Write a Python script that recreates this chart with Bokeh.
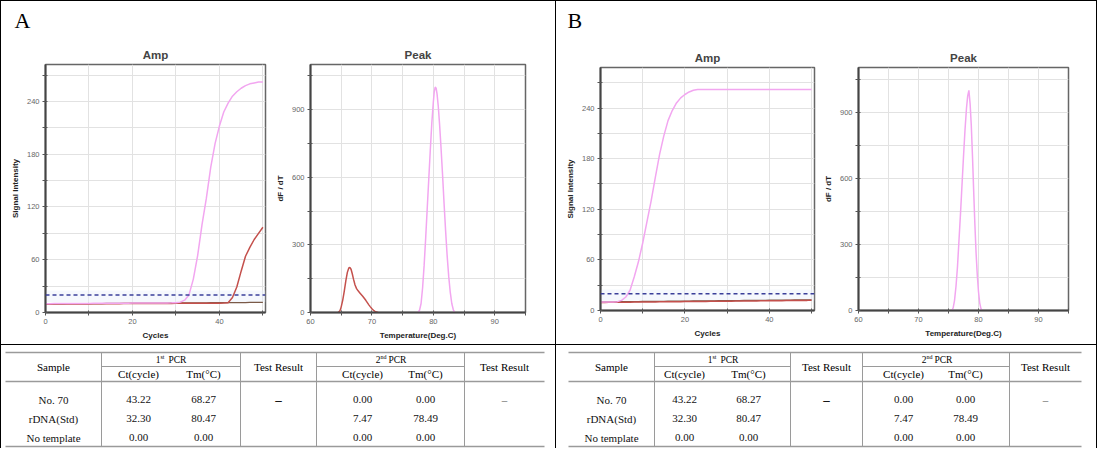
from bokeh.plotting import figure
from bokeh.layouts import row, column
from bokeh.models import Div, FixedTicker, Range1d, Span, BoxAnnotation
from bokeh.core.properties import value
from bokeh.embed import file_html
from bokeh.resources import INLINE

# ---------------- data ----------------
cycles = list(range(51))

ampA_rdna = [10.0, 10.0, 10.1, 10.1, 10.1, 10.2, 10.2, 10.2, 10.3, 10.3,
             10.3, 10.4, 10.4, 10.4, 10.5, 10.5, 10.5, 10.6, 10.6, 10.6,
             10.7, 10.7, 10.7, 10.8, 10.8, 10.8, 10.9, 10.9, 10.9, 11.0,
             11.2, 11.8, 14.0, 20.0, 38.0, 65.0, 100.0, 130.0, 165.0, 192.0,
             212.0, 228.0, 238.0, 246.0, 251.0, 255.0, 258.0, 260.0, 261.0, 262.0,
             262.0]
ampA_no70 = [9.5, 9.5, 9.6, 9.6, 9.6, 9.7, 9.7, 9.7, 9.8, 9.8,
             9.8, 9.9, 9.9, 9.9, 10.0, 10.0, 10.0, 10.0, 10.1, 10.1,
             10.1, 10.1, 10.2, 10.2, 10.2, 10.2, 10.3, 10.3, 10.3, 10.3,
             10.4, 10.4, 10.4, 10.4, 10.5, 10.5, 10.5, 10.5, 10.6, 10.6,
             10.6, 10.8, 11.2, 17.0, 29.0, 47.0, 64.0, 74.0, 83.0, 90.0,
             97.0]
ampA_ntc = [9.8, 9.8, 9.9, 9.9, 9.9, 10.0, 10.0, 10.0, 10.1, 10.1,
            10.1, 10.2, 10.2, 10.2, 10.3, 10.3, 10.3, 10.4, 10.4, 10.4,
            10.5, 10.5, 10.5, 10.6, 10.6, 10.6, 10.7, 10.7, 10.7, 10.8,
            10.8, 10.8, 10.9, 10.9, 10.9, 11.0, 11.0, 11.0, 11.1, 11.1,
            11.1, 11.2, 11.2, 11.2, 11.3, 11.3, 11.3, 11.4, 11.4, 11.4,
            11.5]

ampB_rdna = [10.0, 10.0, 10.1, 10.2, 10.5, 12.0, 16.0, 24.0, 40.0, 58.0,
             80.0, 105.0, 130.0, 158.0, 185.0, 207.0, 225.0, 237.0, 246.0, 252.0,
             256.0, 259.0, 261.0, 262.0, 262.0, 262.0, 262.0, 262.0, 262.0, 262.0,
             262.0, 262.0, 262.0, 262.0, 262.0, 262.0, 262.0, 262.0, 262.0, 262.0,
             262.0, 262.0, 262.0, 262.0, 262.0, 262.0, 262.0, 262.0, 262.0, 262.0,
             262.0]
ampB_no70 = [9.6, 9.6, 9.7, 9.7, 9.8, 9.8, 9.9, 9.9, 10.0, 10.0,
             10.1, 10.1, 10.2, 10.2, 10.3, 10.3, 10.4, 10.4, 10.5, 10.5,
             10.6, 10.6, 10.7, 10.7, 10.8, 10.8, 10.9, 10.9, 11.0, 11.0,
             11.1, 11.1, 11.2, 11.2, 11.3, 11.3, 11.4, 11.4, 11.5, 11.5,
             11.6, 11.6, 11.7, 11.7, 11.8, 11.8, 11.9, 11.9, 12.0, 12.0,
             12.1]
ampB_ntc = [10.2, 10.2, 10.3, 10.3, 10.4, 10.4, 10.5, 10.5, 10.6, 10.6,
            10.7, 10.7, 10.8, 10.8, 10.9, 10.9, 11.0, 11.0, 11.1, 11.1,
            11.2, 11.2, 11.3, 11.3, 11.4, 11.4, 11.5, 11.5, 11.6, 11.6,
            11.7, 11.7, 11.8, 11.8, 11.9, 11.9, 12.0, 12.0, 12.1, 12.1,
            12.2, 12.2, 12.3, 12.3, 12.4, 12.4, 12.5, 12.5, 12.6, 12.6,
            12.7]

threshold_A = 20.0
threshold_B = 20.0

peakA_rdna_temp = [77.5, 77.75, 78.0, 78.25, 78.5, 78.75, 79.0, 79.25, 79.5, 79.75,
                   80.0, 80.15, 80.3, 80.45, 80.6, 80.8, 81.0, 81.25, 81.5, 81.75,
                   82.0, 82.25, 82.5, 82.75, 83.0, 83.25, 83.5]
peakA_rdna = [0, 10, 40, 110, 210, 330, 460, 590, 720, 840,
              935, 980, 1000, 995, 970, 915, 840, 730, 610, 480,
              360, 250, 160, 90, 40, 12, 0]
peakA_no70_temp = [64.5, 64.8, 65.0, 65.25, 65.5, 65.75, 66.0, 66.25, 66.4, 66.6,
                   66.8, 67.0, 67.25, 67.5, 67.75, 68.0, 68.25, 68.5, 68.75, 69.0,
                   69.25, 69.5, 69.75, 70.0, 70.25, 70.5, 70.75, 71.0]
peakA_no70 = [0, 8, 25, 55, 95, 140, 178, 198, 200, 192,
              172, 148, 122, 106, 96, 88, 80, 72, 63, 54,
              44, 34, 25, 17, 10, 5, 2, 0]
peakB_rdna_temp = [75.6, 75.8, 76.0, 76.25, 76.5, 76.75, 77.0, 77.25, 77.5, 77.75,
                   78.0, 78.2, 78.4, 78.6, 78.8, 79.0, 79.2, 79.4, 79.6, 79.8,
                   80.0, 80.2, 80.4, 80.6]
peakB_rdna = [0, 15, 45, 110, 200, 320, 440, 570, 700, 820,
              920, 975, 1000, 940, 840, 700, 540, 390, 260, 160,
              85, 35, 10, 0]

samples = ["No. 70", "rDNA(Std)", "No template"]
ct_1st = ["43.22", "32.30", "0.00"]
tm_1st = ["68.27", "80.47", "0.00"]
result_1st = ["\u2013", "", ""]
ct_2nd = ["0.00", "7.47", "0.00"]
tm_2nd = ["0.00", "78.49", "0.00"]
result_2nd = ["\u2013", "", ""]

PINK = "#f2a6f0"
RED = "#c4504c"
DARK = "#7a5a48"
SANS = "Liberation Sans"
SERIF = "Liberation Serif"


def vline(h):
    return Div(width=1, height=h, margin=0, styles={"background-color": "black"})


def hline(w):
    return Div(width=w, height=1, margin=0, styles={"background-color": "black"})


def style_chart(p, xlabel, ylabel, xticks, xlabels, yticks, ylabels):
    p.title.text_font = SANS
    p.title.text_font_size = "11.5px"
    p.title.text_font_style = "bold"
    p.title.align = "center"
    p.title.standoff = 7
    p.xaxis.ticker = FixedTicker(ticks=xticks)
    p.yaxis.ticker = FixedTicker(ticks=yticks)
    p.xaxis.major_label_overrides = {t: (str(t) if t in xlabels else "") for t in xticks}
    p.yaxis.major_label_overrides = {t: (str(t) if t in ylabels else "") for t in yticks}
    p.xaxis.axis_label = xlabel
    p.yaxis.axis_label = ylabel
    for ax in (p.xaxis[0], p.yaxis[0]):
        ax.axis_label_text_font = SANS
        ax.axis_label_text_font_size = "8px"
        ax.axis_label_text_font_style = "bold"
        ax.axis_label_text_color = "#222222"
        ax.axis_label_standoff = 4
        ax.major_label_text_font = SANS
        ax.major_label_text_font_size = "7.5px"
        ax.major_label_text_color = "#666666"
        ax.major_label_standoff = 3
        ax.axis_line_color = "#444444"
        ax.axis_line_width = 2
        ax.major_tick_line_color = "#555555"
        ax.major_tick_in = 2
        ax.major_tick_out = 3
        ax.minor_tick_line_color = None
    p.grid.grid_line_color = "#e2e2e2"
    p.outline_line_color = "#666666"
    p.outline_line_width = 1.5
    p.background_fill_color = "white"


def amp_chart(width, height, mb, rdna, no70, ntc, thr, xmax, ymax):
    p = figure(width=width, height=height, title="Amp",
               x_range=Range1d(0, xmax), y_range=Range1d(0, ymax),
               toolbar_location=None, output_backend="svg",
               min_border_left=mb[0], min_border_right=mb[1],
               min_border_top=mb[2], min_border_bottom=mb[3])
    style_chart(p, "Cycles", "Signal Intensity",
                [0, 10, 20, 30, 40, 50], [0, 20, 40],
                [0, 30, 60, 90, 120, 150, 180, 210, 240, 270], [0, 60, 120, 180, 240])
    p.add_layout(BoxAnnotation(bottom=thr - 8, top=thr + 5, fill_color="#e9f0fb",
                               fill_alpha=0.45, line_color=None, level="underlay"))
    p.line(cycles, ntc, line_color=DARK, line_width=1.3)
    p.line(cycles, no70, line_color=RED, line_width=1.5)
    p.line(cycles, rdna, line_color=PINK, line_width=1.5)
    p.add_layout(Span(location=thr, dimension="width", line_color="#3a3f9a",
                      line_width=1.5, line_dash="4 3"))
    return p


def peak_chart(width, height, mb, series, xmax, ymax):
    p = figure(width=width, height=height, title="Peak",
               x_range=Range1d(60, xmax), y_range=Range1d(0, ymax),
               toolbar_location=None, output_backend="svg",
               min_border_left=mb[0], min_border_right=mb[1],
               min_border_top=mb[2], min_border_bottom=mb[3])
    style_chart(p, "Temperature(Deg.C)", "dF / dT",
                [60, 65, 70, 75, 80, 85, 90, 95], [60, 70, 80, 90],
                [0, 150, 300, 450, 600, 750, 900, 1050], [0, 300, 600, 900])
    for xs, ys, col in series:
        p.line(xs, ys, line_color=col, line_width=1.5)
    return p


def header(width, height, letter, x, y):
    p = figure(width=width, height=height, x_range=Range1d(0, width),
               y_range=Range1d(height, 0), toolbar_location=None,
               output_backend="svg", min_border=0)
    p.axis.visible = False
    p.grid.visible = False
    p.outline_line_color = None
    p.text(x=[x], y=[y], text=[letter], text_font=value(SERIF),
           text_font_size="22px", text_baseline="middle", text_align="left",
           text_color="black")
    return p


def table(width, height, lay):
    p = figure(width=width, height=height, x_range=Range1d(0, width),
               y_range=Range1d(height, 0), toolbar_location=None,
               output_backend="svg", min_border=0)
    p.axis.visible = False
    p.grid.visible = False
    p.outline_line_color = None
    L, R = lay["left"], lay["right"]
    ytop, ymid, yhead, ybot = lay["ys"]
    # rules
    p.segment(x0=[L, L, L], y0=[ytop, yhead, ybot], x1=[R, R, R], y1=[ytop, yhead, ybot],
              line_color="#9a9a9a", line_width=1.6)
    p.segment(x0=[lay["sep"][0], lay["sep"][2]], y0=[ymid, ymid],
              x1=[lay["sep"][1], lay["sep"][3]], y1=[ymid, ymid],
              line_color="#9a9a9a", line_width=1)
    p.segment(x0=lay["sep"], y0=[ytop] * 4, x1=lay["sep"], y1=[ybot] * 4,
              line_color="#9a9a9a", line_width=1)
    tf = value(SERIF)
    fs = "11px"
    c = lay["centers"]
    hy = (ytop + yhead) / 2
    sy = (ymid + yhead) / 2
    py = (ytop + ymid) / 2
    p.text(x=[c[0], c[3], c[6]], y=[hy] * 3, text=["Sample", "Test Result", "Test Result"],
           text_font=tf, text_font_size=fs, text_align="center", text_baseline="middle")
    p.text(x=[c[1], c[2], c[4], c[5]], y=[sy] * 4,
           text=["Ct(cycle)", "Tm(\u00b0C)", "Ct(cycle)", "Tm(\u00b0C)"],
           text_font=tf, text_font_size=fs, text_align="center", text_baseline="middle")
    pc = lay["pcr"]
    p.text(x=[pc[0] - 10, pc[1] - 10], y=[py, py], text=["1", "2"], text_font=tf,
           text_font_size="9.5px", text_align="right", text_baseline="middle")
    p.text(x=[pc[0] - 10, pc[1] - 10], y=[py - 2.5, py - 2.5], text=["st", "nd"], text_font=tf,
           text_font_size="6px", text_align="left", text_baseline="middle")
    p.text(x=[pc[0] - 2, pc[1] - 2], y=[py, py], text=["PCR", "PCR"], text_font=tf,
           text_font_size="9.5px", text_align="left", text_baseline="middle")
    rows = lay["rows"]
    cols = [samples, ct_1st, tm_1st, result_1st, ct_2nd, tm_2nd, result_2nd]
    for ci, col in enumerate(cols):
        if ci in (3, 6):
            continue
        p.text(x=[c[ci]] * 3, y=rows, text=col, text_font=tf, text_font_size=fs,
               text_align="center", text_baseline="middle", text_color="#111111")
    p.text(x=[c[3]], y=[rows[0]], text=[result_1st[0]], text_font=tf, text_font_size="13px",
           text_font_style="bold", text_align="center", text_baseline="middle")
    p.text(x=[c[6]], y=[rows[0]], text=[result_2nd[0]], text_font=tf, text_font_size="11px",
           text_align="center", text_baseline="middle", text_color="#555555")
    return p


# ---------------- panels ----------------
TOP_H = 307
HEAD_H = 36

ampA = amp_chart(271, TOP_H, (44, 7, 27, 32), ampA_rdna, ampA_no70, ampA_ntc, threshold_A, 50.6, 282)
peakA = peak_chart(283, TOP_H, (33, 30, 27, 32),
                   [(peakA_no70_temp, peakA_no70, RED), (peakA_rdna_temp, peakA_rdna, PINK)], 95, 1100)
ampB = amp_chart(264, TOP_H, (44, 6, 30, 34), ampB_rdna, ampB_no70, ampB_ntc, threshold_B, 50.7, 288)
peakB = peak_chart(276, TOP_H, (32, 28, 29, 34),
                   [(peakB_rdna_temp, peakB_rdna, PINK)], 95, 1104)

headA = header(554, HEAD_H, "A", 13, 19)
headB = header(540, HEAD_H, "B", 11, 19)

TAB_H = 103
layA = dict(left=4, right=543, ys=(7, 21, 36, 101),
            sep=[100, 239, 315, 463],
            centers=[52, 137, 202, 277, 361, 424, 503],
            pcr=[169, 389], rows=[54, 73, 92])
layB = dict(left=12, right=525, ys=(7, 21, 36, 101),
            sep=[98, 234, 306, 453],
            centers=[55, 128, 192, 270, 347, 409, 489],
            pcr=[166, 380], rows=[54, 73, 92])
tabA = table(554, TAB_H, layA)
tabB = table(540, TAB_H, layB)

top_h = HEAD_H + TOP_H
page = column(
    hline(1097),
    row(vline(top_h), column(headA, row(ampA, peakA)), vline(top_h),
        column(headB, row(ampB, peakB)), vline(top_h)),
    hline(1097),
    row(vline(TAB_H), tabA, vline(TAB_H), tabB, vline(TAB_H)),
)

open("out.html", "w").write(file_html(page, INLINE))
